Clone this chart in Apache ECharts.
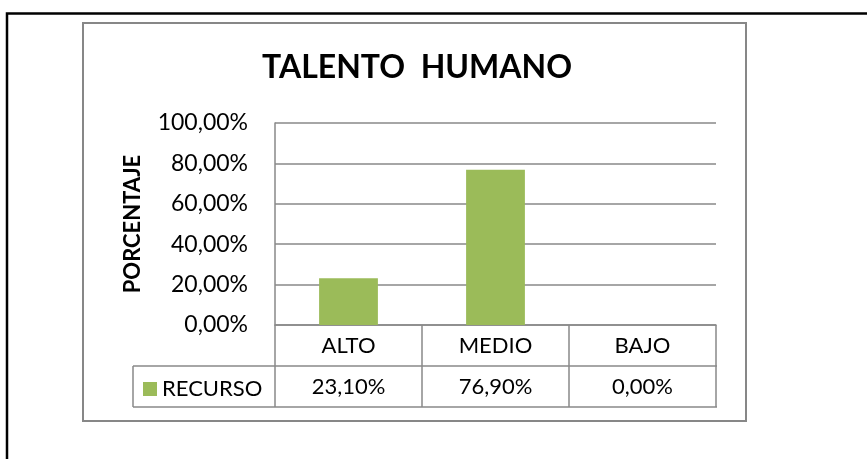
<!DOCTYPE html>
<html>
<head>
<meta charset="utf-8">
<script src="https://cdn.jsdelivr.net/npm/echarts@6/dist/echarts.min.js"></script>
<style>
  html, body { margin: 0; padding: 0; background: #fff; }
  #chart { width: 867px; height: 459px; }
</style>
</head>
<body>
<div id="chart"></div>
<script>
var categories = ['ALTO', 'MEDIO', 'BAJO'];
var recurso = [23.1, 76.9, 0];
var yTicks = [0, 20, 40, 60, 80, 100];

var chart = echarts.init(document.getElementById('chart'));

// plot area in pixels
var plot = { left: 275, right: 716, top: 123, bottom: 325 };
var rowH = 41;
var tableLeft = 133;
var lineGray = '#898989';
var font = 'Lato, "Open Sans", sans-serif';

function pct(v) {
  return v.toFixed(2).replace('.', ',') + '%';
}

chart.setOption({
  animation: false,
  backgroundColor: '#fff',
  title: {
    text: 'TALENTO  HUMANO',
    left: 412,
    textAlign: 'center',
    top: 47,
    textStyle: { fontFamily: font, fontSize: 32, fontWeight: 'bold', color: '#000' }
  },
  legend: {
    data: ['RECURSO'],
    left: 143,
    top: 378,
    padding: 0,
    icon: 'rect',
    itemWidth: 14,
    itemHeight: 14,
    itemStyle: { borderWidth: 0 },
    selectedMode: false,
    textStyle: { fontFamily: font, fontSize: 22, color: '#000' }
  },
  grid: {
    left: plot.left,
    right: 867 - plot.right,
    top: plot.top,
    bottom: 459 - plot.bottom
  },
  xAxis: {
    type: 'category',
    data: categories,
    axisLine: { show: true, lineStyle: { color: lineGray, width: 1.5 } },
    axisTick: { show: true, length: rowH * 2, interval: 0, lineStyle: { color: lineGray, width: 1.5 } },
    axisLabel: {
      margin: 0,
      interval: 0,
      formatter: function (val, idx) {
        return '{c|' + val + '}\n{v|' + pct(recurso[idx]) + '}';
      },
      rich: {
        c: { fontFamily: font, fontSize: 22, color: '#000', lineHeight: rowH, height: rowH },
        v: { fontFamily: font, fontSize: 22, color: '#000', lineHeight: rowH, height: rowH }
      }
    }
  },
  yAxis: {
    type: 'value',
    min: yTicks[0],
    max: yTicks[yTicks.length - 1],
    interval: 20,
    name: 'PORCENTAJE',
    nameLocation: 'middle',
    nameGap: 131,
    nameTextStyle: { fontFamily: font, fontSize: 22, fontWeight: 'bold', color: '#000' },
    axisLine: { show: true, lineStyle: { color: lineGray, width: 1.5 } },
    axisTick: { show: false },
    axisLabel: {
      margin: 27,
      fontFamily: font,
      fontSize: 23,
      color: '#000',
      formatter: function (v) { return pct(v); }
    },
    splitLine: { lineStyle: { color: lineGray, width: 1.5 } }
  },
  series: [{
    name: 'RECURSO',
    type: 'bar',
    data: recurso,
    barWidth: '40%',
    itemStyle: { color: '#9BBB59' }
  }],
  graphic: [
    // outer black frame
    { type: 'rect', shape: { x: 7, y: 13.5, width: 900, height: 500 },
      style: { fill: 'none', stroke: '#000', lineWidth: 2.5 } },
    // chart area border
    { type: 'rect', shape: { x: 83, y: 23, width: 663, height: 398 },
      style: { fill: 'none', stroke: '#878787', lineWidth: 2 } },
    // data table lines
    { type: 'line', shape: { x1: tableLeft, y1: plot.bottom + rowH, x2: plot.right + 1, y2: plot.bottom + rowH },
      style: { stroke: lineGray, lineWidth: 1.5 } },
    { type: 'line', shape: { x1: tableLeft, y1: plot.bottom + rowH * 2, x2: plot.right + 1, y2: plot.bottom + rowH * 2 },
      style: { stroke: lineGray, lineWidth: 1.5 } },
    { type: 'line', shape: { x1: tableLeft, y1: plot.bottom + rowH, x2: tableLeft, y2: plot.bottom + rowH * 2 },
      style: { stroke: lineGray, lineWidth: 1.5 } }
  ]
});
</script>
</body>
</html>
